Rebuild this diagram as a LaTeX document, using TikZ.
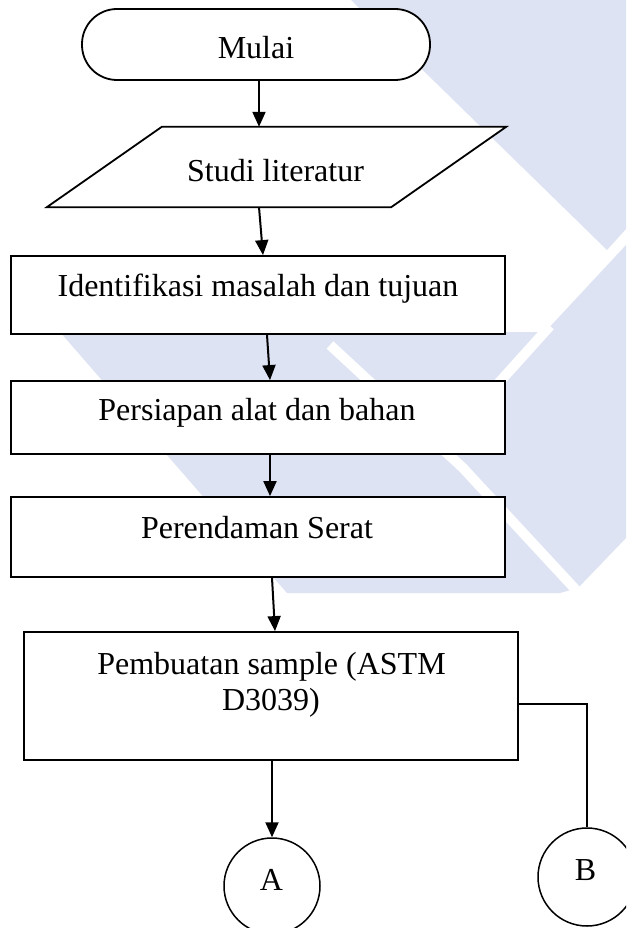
\documentclass[tikz,border=0pt]{standalone}
\usepackage{fontspec}
\setmainfont{Liberation Serif}
\usetikzlibrary{arrows.meta,calc}
\definecolor{wm}{RGB}{221,227,242}
\tikzset{
  box/.style={draw=black, line width=1.8pt, fill=white, minimum width=494pt, inner sep=0pt},
  txt/.style={anchor=base, inner sep=0pt, font=\fontsize{32}{37}\selectfont},
  arr/.style={line width=2pt, -{Triangle[length=15pt,width=13pt]}},
  conn/.style={draw=black, line width=1.5pt, fill=white, circle, inner sep=0pt},
  stripe/.style={white, line width=10pt},
}
\begin{document}
\begin{tikzpicture}[x=1pt,y=-1pt]
\useasboundingbox (0,0) rectangle (626,928);
\clip (0,0) rectangle (626,928);
\fill[white] (0,0) rectangle (626,928);
% watermark
\fill[wm] (351,0) -- (626,0) -- (626,229) -- (607,250) -- cycle;
\fill[wm] (60,332) -- (545,332) -- (626,245) -- (626,538) -- (578,588) -- (560,593) -- (287,593) -- cycle;
\draw[stripe] (330,345) -- (463,468) -- (576,590);
\draw[stripe] (550,326) -- (440,448);
% shapes
\node[box, rounded corners=35pt, minimum width=348pt, minimum height=71pt] (t) at (256,44.5) {};
\node[txt] (tT) at (256,58.3) {Mulai};
\node[minimum width=459pt, minimum height=80pt, inner sep=0pt] (p) at (276.5,167) {};
\draw[line width=1.8pt, fill=white] (p.south west) -- ([xshift=115pt]p.north west) -- (p.north east) -- ([xshift=-115pt]p.south east) -- cycle;
\node[txt] (pT) at (275.5,181.7) {Studi literatur};
\node[box, minimum height=78pt] (b1) at (258,295) {};
\node[txt] (b1T) at (258,296.7) {Identifikasi masalah dan tujuan};
\node[box, minimum height=73pt] (b2) at (258,417.5) {};
\node[txt] (b2T) at (257,420.7) {Persiapan alat dan bahan};
\node[box, minimum height=80pt] (b3) at (258,537) {};
\node[txt] (b3T) at (257,538.5) {Perendaman Serat};
\node[box, minimum height=128pt] (b4) at (271,696) {};
\node[txt] (b4T1) at (271.5,674) {Pembuatan sample (ASTM};
\node[txt] (b4T2) at (271,710.7) {D3039)};
\node[conn, minimum size=96pt] (A) at (272,886) {};
\node[txt] (AT) at (271.5,890) {A};
\node[conn, minimum size=98pt] (B) at (587,877) {};
\node[txt] (BT) at (585.6,880) {B};
% connectors
\draw[arr] ([xshift=3pt]t.south) -- ([xshift=-17.5pt]p.north);
\draw[arr] ([xshift=-17.5pt]p.south) -- ([xshift=5pt]b1.north);
\draw[arr] ([xshift=9pt]b1.south) -- ([xshift=12pt]b2.north);
\draw[arr] ([xshift=12pt]b2.south) -- ([xshift=12pt]b3.north);
\draw[arr] ([xshift=14pt]b3.south) -- ([xshift=4pt]b4.north);
\draw[arr] ([xshift=1pt]b4.south) -- (A.north);
\draw[line width=1.3pt] ([yshift=-8pt]b4.east) -| (B.north);
\end{tikzpicture}
\end{document}
